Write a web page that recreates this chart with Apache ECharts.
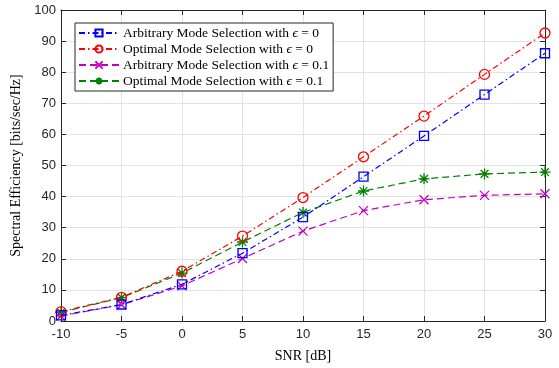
<!DOCTYPE html>
<html><head><meta charset="utf-8">
<script src="https://cdn.jsdelivr.net/npm/echarts@6/dist/echarts.min.js"></script>
<style>html,body{margin:0;padding:0;background:#fff}#c{width:559px;height:368px}</style>
</head><body><div id="c"></div>
<script>
const snr = [-10, -5, 0, 5, 10, 15, 20, 25, 30];
const arbitraryEps0 = [1.8, 5.3, 11.8, 21.8, 33.4, 46.4, 59.5, 72.8, 86.1];
const optimalEps0 = [3.0, 7.6, 16.0, 27.3, 39.7, 52.8, 65.9, 79.3, 92.6];
const arbitraryEps01 = [1.6, 5.2, 11.3, 20.1, 28.9, 35.5, 39.0, 40.4, 40.9];
const optimalEps01 = [2.8, 7.5, 15.4, 25.4, 34.9, 41.8, 45.7, 47.3, 47.9];
const seriesNames = ['Arbitrary Mode Selection with ', 'Optimal Mode Selection with ', 'Arbitrary Mode Selection with ', 'Optimal Mode Selection with '];
const epsValues = ['0', '0', '0.1', '0.1'];
const xTicks = [-10, -5, 0, 5, 10, 15, 20, 25, 30];

const xPath = 'path://M0,0L10,10M10,0L0,10';
const starPath = 'path://M5,0L5,10M0,5L10,5M1.5,1.5L8.5,8.5M8.5,1.5L1.5,8.5';

const defs = [
  {data: arbitraryEps0, color: '#0000ff', symbol: 'rect', size: 9, dash: [6, 3, 1.5, 3]},
  {data: optimalEps0, color: '#ff0000', symbol: 'circle', size: 10, dash: [6, 3, 1.5, 3]},
  {data: arbitraryEps01, color: '#bf00bf', symbol: xPath, size: 9, dash: [7, 4]},
  {data: optimalEps01, color: '#008000', symbol: starPath, size: 11, dash: [7, 4]}
];

const series = defs.map((d, i) => ({
  name: 'S' + i,
  type: 'line',
  data: snr.map((x, j) => [x, d.data[j]]),
  symbol: d.symbol,
  symbolSize: d.size,
  showSymbol: true,
  lineStyle: {color: d.color, width: 1.2, type: d.dash},
  itemStyle: {color: 'rgba(0,0,0,0)', borderColor: d.color, borderWidth: 1.3},
  emphasis: {disabled: true},
  z: 10 - i
}));

const chart = echarts.init(document.getElementById('c'), null, {renderer: 'canvas'});
const axisCommon = {
  axisLine: {show: true, onZero: false, lineStyle: {color: '#262626', width: 1}},
  axisTick: {show: true, inside: true, length: 5, lineStyle: {color: '#262626'}},
};
chart.setOption({
  animation: false,
  backgroundColor: '#fff',
  grid: {left: 61, right: 14, top: 10, bottom: 44},
  legend: {
    left: 75, top: 23,
    orient: 'vertical',
    itemWidth: 40, itemHeight: 9, itemGap: 2,
    padding: [3, 4, 3, 3],
    backgroundColor: '#fff',
    borderColor: '#262626', borderWidth: 1, borderRadius: 0,
    data: series.map(s => s.name),
    formatter: name => {
      const i = +name.slice(1);
      return '{a|' + seriesNames[i] + '}{e|ϵ}{a| = ' + epsValues[i] + '}';
    },
    textStyle: {
      padding: [0, 0, 0, -1],
      rich: {
        a: {fontFamily: 'Liberation Serif', fontSize: 13.5, lineHeight: 14.5, color: '#000'},
        e: {fontFamily: 'Liberation Serif', fontStyle: 'italic', fontSize: 13.5, lineHeight: 14.5, color: '#000'}
      }
    }
  },
  xAxis: [{
    type: 'value', min: -10, max: 30, interval: 5,
    name: 'SNR [dB]', nameLocation: 'middle', nameGap: 28,
    nameTextStyle: {fontFamily: 'Liberation Serif', fontSize: 14, color: '#000'},
    ...axisCommon,
    axisLabel: {fontFamily: 'Liberation Sans', fontSize: 13, color: '#262626', margin: 7},
    splitLine: {show: true, lineStyle: {color: '#e3e3e3', width: 1}}
  }, {
    type: 'value', min: -10, max: 30, interval: 5, position: 'top',
    ...axisCommon, axisLabel: {show: false}, splitLine: {show: false}
  }],
  yAxis: [{
    type: 'value', min: 0, max: 100, interval: 10,
    name: 'Spectral Efficiency [bits/sec/Hz]', nameLocation: 'middle', nameGap: 32,
    nameTextStyle: {fontFamily: 'Liberation Serif', fontSize: 14, color: '#000'},
    ...axisCommon,
    axisLabel: {fontFamily: 'Liberation Sans', fontSize: 13, color: '#262626', margin: 5},
    splitLine: {show: true, lineStyle: {color: '#e3e3e3', width: 1}}
  }, {
    type: 'value', min: 0, max: 100, interval: 10, position: 'right',
    ...axisCommon, axisLabel: {show: false}, splitLine: {show: false}
  }],
  series: series
});
</script></body></html>
